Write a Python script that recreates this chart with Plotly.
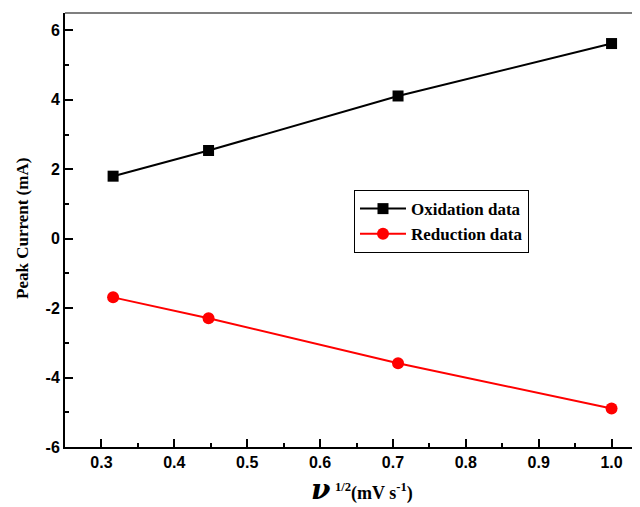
import plotly.graph_objects as go

scan_rate_sqrt = [0.316, 0.447, 0.707, 1.0]
oxidation = [1.80, 2.54, 4.11, 5.62]
reduction = [-1.69, -2.29, -3.59, -4.89]

x_ticks = [0.3, 0.4, 0.5, 0.6, 0.7, 0.8, 0.9, 1.0]
x_tick_labels = ["0.3", "0.4", "0.5", "0.6", "0.7", "0.8", "0.9", "1.0"]
y_ticks = [-6, -4, -2, 0, 2, 4, 6]
y_tick_labels = ["-6", "-4", "-2", "0", "2", "4", "6"]

fig = go.Figure()
fig.add_trace(go.Scatter(x=scan_rate_sqrt, y=oxidation, mode="lines+markers",
                         name="Oxidation data",
                         line=dict(color="black", width=2),
                         marker=dict(symbol="square", size=11, color="black")))
fig.add_trace(go.Scatter(x=scan_rate_sqrt, y=reduction, mode="lines+markers",
                         name="Reduction data",
                         line=dict(color="#ff0000", width=2),
                         marker=dict(symbol="circle", size=12, color="#ff0000")))

tickfont = dict(family="Liberation Sans", size=16, color="black", weight="bold")

fig.update_layout(
    width=640, height=507,
    margin=dict(l=57, r=0, t=5, b=68, autoexpand=False),
    paper_bgcolor="white", plot_bgcolor="white",
    showlegend=True,
    legend=dict(x=0.4957, y=0.592, xanchor="left", yanchor="top",
                bordercolor="black", borderwidth=1, bgcolor="white",
                font=dict(family="Liberation Serif", size=17, color="black", weight="bold"),
                tracegroupgap=0, itemwidth=46),
    xaxis=dict(range=[0.25, 1.05], tickvals=x_ticks, ticktext=x_tick_labels,
               ticks="inside", ticklen=8, tickwidth=1.5, tickcolor="black",
               showline=True, linecolor="black", linewidth=2, mirror=False,
               showgrid=False, zeroline=False, tickfont=tickfont, automargin=False,
               minor=dict(dtick=0.05, tick0=0.25, ticks="inside", ticklen=4,
                          tickwidth=1.5, tickcolor="black", showgrid=False)),
    yaxis=dict(range=[-6, 6.5], tickvals=y_ticks, ticktext=y_tick_labels,
               ticks="inside", ticklen=8, tickwidth=1.5, tickcolor="black",
               showline=True, linecolor="black", linewidth=2, mirror=False,
               showgrid=False, zeroline=False, tickfont=tickfont, automargin=False,
               minor=dict(dtick=1, tick0=0, ticks="inside", ticklen=4,
                          tickwidth=1.5, tickcolor="black", showgrid=False)),
    shapes=[dict(type="line", xref="paper", yref="paper", x0=0, x1=1, y0=1, y1=1,
                 line=dict(color="#555555", width=1.5))],
    annotations=[
        dict(text="<b>Peak Current (mA)</b>", xref="paper", yref="paper",
             x=-0.0738, y=0.5046, xanchor="center", yanchor="middle",
             textangle=-90, showarrow=False,
             font=dict(family="Liberation Serif", size=17, color="black")),
        dict(text="<span style='font-family:DejaVu Serif;font-size:28px'><b><i>ν</i></b></span>"
                  "<b> <sup>1/2</sup>(mV s<sup>-1</sup>)</b>",
             xref="paper", yref="paper", x=0.509, y=-0.141,
             xanchor="center", yanchor="bottom", showarrow=False,
             font=dict(family="Liberation Serif", size=18, color="black")),
    ],
)

fig.write_html("out.html")
